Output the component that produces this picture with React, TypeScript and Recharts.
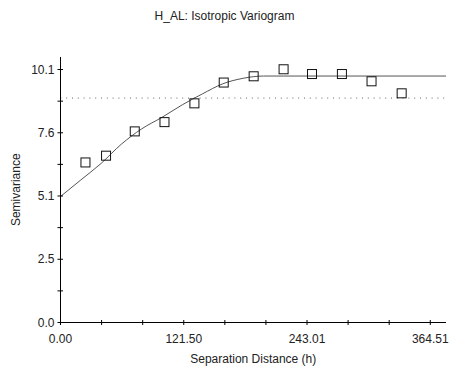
import React from 'react';
import { ComposedChart, Scatter, Line, XAxis, YAxis, ReferenceLine } from 'recharts';

// Experimental semivariogram (lag distance, semivariance)
const lagDistance = [24.6, 44.9, 73.2, 102.5, 132.0, 160.9, 190.4, 219.9, 247.9, 277.4, 306.6, 336.3];
const semivariance = [6.39, 6.66, 7.63, 8.0, 8.75, 9.58, 9.83, 10.11, 9.92, 9.92, 9.63, 9.15];

// Fitted model curve
const modelDistance = [0, 20, 40, 60, 80, 100, 120, 140, 160, 180, 200, 220, 380];
const modelValue = [5.03, 5.69, 6.35, 7.12, 7.73, 8.19, 8.69, 9.13, 9.53, 9.75, 9.84, 9.84, 9.84];

// Sample variance (dotted line)
const sampleVariance = 8.96;

const xTicks = [0, 40.5, 81.0, 121.5, 162.0, 202.5, 243.01, 283.5, 324.0, 364.51];
const xTickLabels = ['0.00', '', '', '121.50', '', '', '243.01', '', '', '364.51'];
const yTicks = [0, 1.2625, 2.525, 3.7875, 5.05, 6.3125, 7.575, 8.8375, 10.1];
const yTickLabels = ['0.0', '', '2.5', '', '5.1', '', '7.6', '', '10.1'];

const title = 'H_AL: Isotropic Variogram';
const xTitle = 'Separation Distance (h)';
const yTitle = 'Semivariance';

const FONT = '"Liberation Sans", Arial, sans-serif';
const TEXT = '#222';

const points = lagDistance.map((h, i) => ({ h, v: semivariance[i] }));
const model = modelDistance.map((h, i) => ({ h, v: modelValue[i] }));

const XTick = (props: any) => {
  const { x, y, payload } = props;
  const idx = xTicks.indexOf(payload.value);
  const label = idx >= 0 ? xTickLabels[idx] : '';
  return (
    <g>
      <line x1={x} x2={x} y1={y - 2.5} y2={y + 2.5} stroke="#000" strokeWidth={1} />
      {label ? (
        <text x={x} y={y + 20} textAnchor="middle" fontSize={12} fontFamily={FONT} fill={TEXT}>
          {label}
        </text>
      ) : null}
    </g>
  );
};

const YTick = (props: any) => {
  const { x, y, payload } = props;
  const idx = yTicks.indexOf(payload.value);
  const label = idx >= 0 ? yTickLabels[idx] : '';
  return (
    <g>
      <line x1={x - 3} x2={x + 2.5} y1={y} y2={y} stroke="#000" strokeWidth={1} />
      {label ? (
        <text x={x - 6} y={y + 4} textAnchor="end" fontSize={12} fontFamily={FONT} fill={TEXT}>
          {label}
        </text>
      ) : null}
    </g>
  );
};

const SquareShape = (props: any) => {
  const { cx, cy } = props;
  if (cx == null || cy == null) return null;
  return <rect x={cx - 4.5} y={cy - 4.5} width={9} height={9} fill="none" stroke="#111" strokeWidth={1} />;
};

export default function App() {
  return (
    <div style={{ position: 'absolute', left: 0, top: 0, width: 449, height: 374, background: '#fff' }}>
      <div
        style={{
          position: 'absolute',
          left: 0,
          top: 9,
          width: 449,
          textAlign: 'center',
          fontFamily: FONT,
          fontSize: 12,
          lineHeight: '14px',
          color: TEXT,
        }}
      >
        {title}
      </div>
      <ComposedChart
        width={449}
        height={374}
        margin={{ top: 57, right: 3, bottom: 0, left: 0 }}
        style={{ position: 'absolute', left: 0, top: 0 }}
      >
        <XAxis
          type="number"
          dataKey="h"
          domain={[0, 380]}
          ticks={xTicks}
          interval={0}
          height={51.5}
          tickSize={0}
          tickMargin={0}
          tickLine={false}
          axisLine={{ stroke: '#000', strokeWidth: 1 }}
          tick={<XTick />}
          allowDataOverflow
          label={{
            value: xTitle,
            position: 'insideBottom',
            offset: 11,
            fontSize: 12,
            fontFamily: FONT,
            fill: TEXT,
          }}
        />
        <YAxis
          type="number"
          dataKey="v"
          domain={[0, 10.6]}
          ticks={yTicks}
          interval={0}
          width={60.5}
          tickSize={0}
          tickMargin={0}
          tickLine={false}
          axisLine={{ stroke: '#000', strokeWidth: 1 }}
          tick={<YTick />}
          allowDataOverflow
          label={{
            value: yTitle,
            angle: -90,
            position: 'insideLeft',
            offset: 16,
            fontSize: 12,
            fontFamily: FONT,
            fill: TEXT,
            style: { textAnchor: 'middle' },
          }}
        />
        <ReferenceLine
          y={sampleVariance}
          stroke="#666"
          strokeWidth={1}
          strokeDasharray="1 4.8"
          strokeDashoffset={0.1}
          ifOverflow="hidden"
        />
        <Line
          data={model}
          dataKey="v"
          type="monotone"
          stroke="#555"
          strokeWidth={1}
          dot={false}
          activeDot={false}
          isAnimationActive={false}
        />
        <Scatter data={points} dataKey="v" shape={<SquareShape />} isAnimationActive={false} />
      </ComposedChart>
    </div>
  );
}
